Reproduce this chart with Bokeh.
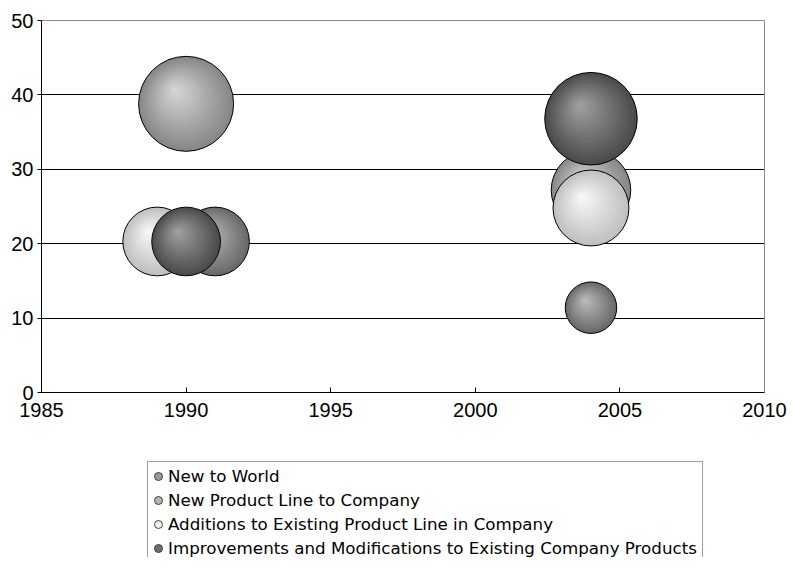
import math

from bokeh.embed import file_html
from bokeh.layouts import column
from bokeh.models import (ColumnDataSource, FixedTicker, Legend, LegendItem,
                          LinearAxis, Range1d)
from bokeh.plotting import figure
from bokeh.resources import INLINE

# ---------------------------------------------------------------- data
categories = [
    "New to World",
    "New Product Line to Company",
    "Additions to Existing Product Line in Company",
    "Improvements and Modifications to Existing Company Products",
]

# year of the survey and share (%) of new products; the bubble size is the share
years_new_world = [1991, 2004]
share_new_world = [20.3, 11.4]

years_new_line = [1990, 2004]
share_new_line = [38.8, 27.2]

years_additions = [1989, 2004]
share_additions = [20.3, 24.8]

years_improvements = [1990, 2004]
share_improvements = [20.3, 36.8]

x_ticks = [1985, 1990, 1995, 2000, 2005, 2010]
y_ticks = [0, 10, 20, 30, 40, 50]
grid_ticks = [10, 20, 30, 40]

# ---------------------------------------------------------------- styles
# (edge colour, highlight colour, legend key colour) per series
palette = [
    ("#6a6a6a", "#bababa", "#9a9a9a"),
    ("#888888", "#d4d4d4", "#b4b4b4"),
    ("#c0c0c0", "#f7f7f7", "#f2f2f2"),
    ("#4c4c4c", "#9e9e9e", "#6e6e6e"),
]

FRAME_W, FRAME_H = 723, 372
X0, X1 = x_ticks[0], x_ticks[-1]
Y0, Y1 = y_ticks[0], y_ticks[-1]
PX_PER_X = FRAME_W / (X1 - X0)
PX_PER_Y = FRAME_H / (Y1 - Y0)

R_MAX = 47.5          # screen radius of the largest bubble
N_BANDS = 16          # rings used to shade each bubble
HI_DX, HI_DY = -0.25, 0.30   # highlight offset, as a fraction of the radius

all_sizes = share_new_world + share_new_line + share_additions + share_improvements
max_size = max(all_sizes)


def bubble_radius(size):
    return R_MAX * math.sqrt(size / max_size)


def hex_rgb(h):
    h = h.lstrip("#")
    return tuple(int(h[i:i + 2], 16) for i in (0, 2, 4))


def blend(c1, c2, t):
    a, b = hex_rgb(c1), hex_rgb(c2)
    return "#%02x%02x%02x" % tuple(round(a[i] + (b[i] - a[i]) * t) for i in range(3))


# ---------------------------------------------------------------- chart
p = figure(
    width=793, height=450,
    frame_width=FRAME_W, frame_height=FRAME_H,
    x_range=Range1d(X0, X1), y_range=Range1d(Y0, Y1),
    output_backend="svg", toolbar_location=None,
    min_border_left=41, min_border_right=29,
    min_border_top=20, min_border_bottom=58,
    background_fill_color="white", border_fill_color="white",
)
p.outline_line_color = None

bottom_axis = p.below[0]
left_axis = p.left[0]

for ax in (bottom_axis, left_axis):
    ax.axis_line_color = "black"
    ax.axis_line_width = 1
    ax.major_tick_line_color = "black"
    ax.minor_tick_line_color = None
    ax.major_label_text_font = "Liberation Sans"
    ax.major_label_text_font_size = "20px"
    ax.major_label_text_color = "black"

bottom_axis.ticker = FixedTicker(ticks=x_ticks)
bottom_axis.major_tick_in = 5
bottom_axis.major_tick_out = 0
bottom_axis.major_label_standoff = 10

left_axis.ticker = FixedTicker(ticks=y_ticks)
left_axis.major_tick_in = 0
left_axis.major_tick_out = 4
left_axis.major_label_standoff = 4

p.xgrid.visible = False
p.ygrid.ticker = FixedTicker(ticks=grid_ticks)
p.ygrid.grid_line_color = "black"
p.ygrid.grid_line_width = 1

# thin grey border along the top and right of the plot area
for place in ("above", "right"):
    border = LinearAxis(
        ticker=FixedTicker(ticks=[]),
        axis_line_color="#8c8c8c", axis_line_width=1,
        major_tick_line_color=None, minor_tick_line_color=None,
        major_label_text_font_size="0px",
    )
    p.add_layout(border, place)

# ---------------------------------------------------------------- bubbles
series = [
    (years_new_world, share_new_world),
    (years_new_line, share_new_line),
    (years_additions, share_additions),
    (years_improvements, share_improvements),
]

for (xs, ys), (edge, hi, key) in zip(series, palette):
    sizes = ys
    shade = dict(x=[], y=[], r=[], c=[])
    for k in range(N_BANDS):
        t = k / N_BANDS
        for x, y, s in zip(xs, ys, sizes):
            r = bubble_radius(s)
            shade["x"].append(x + HI_DX * r * t / PX_PER_X)
            shade["y"].append(y + HI_DY * r * t / PX_PER_Y)
            shade["r"].append(r * (1 - t))
            shade["c"].append(blend(edge, hi, k / (N_BANDS - 1)))
    p.circle(x="x", y="y", radius="r", radius_units="screen",
             fill_color="c", line_color=None,
             source=ColumnDataSource(shade))
    p.circle(x=xs, y=ys, radius=[bubble_radius(s) for s in sizes],
             radius_units="screen", fill_color=None,
             line_color="black", line_width=1)

# ---------------------------------------------------------------- legend strip
LEG_H = 107
lf = figure(
    width=793, height=LEG_H,
    frame_width=793, frame_height=LEG_H,
    x_range=Range1d(0, 1), y_range=Range1d(0, 1),
    x_axis_location=None, y_axis_location=None,
    output_backend="svg", toolbar_location=None,
    min_border=0, background_fill_color="white", border_fill_color="white",
)
lf.outline_line_color = None
lf.xgrid.visible = False
lf.ygrid.visible = False

# key renderers: one point each, parked outside the strip's visible range
legend_items = []
for name, (edge, hi, key) in zip(categories, palette):
    key_r = lf.scatter(x=[-1], y=[-1], marker="circle", size=8,
                       fill_color=key, line_color="#404040", line_width=1)
    legend_items.append(LegendItem(label=name, renderers=[key_r]))

legend = Legend(
    items=legend_items,
    location=(147, -2),
    orientation="vertical",
    padding=0, margin=0, spacing=4,
    glyph_width=20, glyph_height=20,
    label_height=20, label_width=534, label_standoff=0,
    label_text_font="DejaVu Sans", label_text_font_size="16.7px",
    label_text_color="black",
    title=" ", title_text_font_size="2px", title_standoff=2,
    border_line_color="#404040", border_line_width=1,
    background_fill_color="white", background_fill_alpha=1.0,
)
lf.add_layout(legend, "center")

page = column(p, lf, spacing=0)
open("out.html", "w").write(file_html(page, INLINE))
